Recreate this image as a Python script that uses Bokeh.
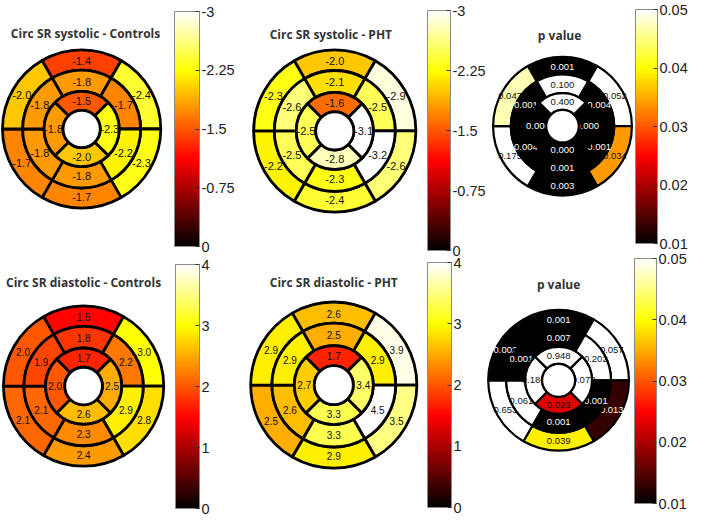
import math
from bokeh.plotting import figure
from bokeh.models import (ColumnDataSource, LinearColorMapper, ColorBar, FixedTicker,
                          Range1d, CustomJSTickFormatter, BasicTickFormatter)
from bokeh.core.properties import value
from bokeh.embed import file_html
from bokeh.resources import INLINE

# ---------------- data ----------------
# ring order: outer/middle = [top, upper-right, lower-right, bottom, lower-left, upper-left]
#             inner        = [top, right, bottom, left]
titles = ["Circ SR systolic - Controls", "Circ SR systolic - PHT", "p value",
          "Circ SR diastolic - Controls", "Circ SR diastolic - PHT", "p value"]

sys_controls_outer = [-1.4, -2.4, -2.3, -1.7, -1.7, -2.0]
sys_controls_middle = [-1.8, -1.7, -2.2, -1.8, -1.8, -1.8]
sys_controls_inner = [-1.5, -2.3, -2.0, -1.8]

sys_pht_outer = [-2.0, -2.9, -2.6, -2.4, -2.2, -2.3]
sys_pht_middle = [-2.1, -2.5, -3.2, -2.3, -2.5, -2.6]
sys_pht_inner = [-1.6, -3.1, -2.8, -2.5]

sys_p_outer = [0.001, 0.052, 0.034, 0.003, 0.175, 0.047]
sys_p_middle = [0.100, 0.004, 0.001, 0.001, 0.004, 0.001]
sys_p_inner = [0.400, 0.000, 0.000, 0.000]

dia_controls_outer = [1.5, 3.0, 2.8, 2.4, 2.1, 2.0]
dia_controls_middle = [1.8, 2.2, 2.9, 2.3, 2.1, 1.9]
dia_controls_inner = [1.7, 2.5, 2.6, 2.0]

dia_pht_outer = [2.6, 3.9, 3.5, 2.9, 2.5, 2.9]
dia_pht_middle = [2.5, 2.9, 4.5, 3.3, 2.6, 2.9]
dia_pht_inner = [1.7, 3.4, 3.3, 2.7]

dia_p_outer = [0.001, 0.057, 0.013, 0.039, 0.653, 0.002]
dia_p_middle = [0.007, 0.202, 0.001, 0.001, 0.061, 0.001]
dia_p_inner = [0.948, 0.073, 0.023, 0.186]

sys_ticks = [0, -0.75, -1.5, -2.25, -3]
dia_ticks = [0, 1, 2, 3, 4]
p_ticks = [0.01, 0.02, 0.03, 0.04, 0.05]

# ---------------- helpers ----------------
def hot(m=256):
    n = int(3 * m / 8)
    out = []
    for i in range(m):
        r = (i + 1) / n if i < n else 1.0
        g = 0.0 if i < n else ((i - n + 1) / n if i < 2 * n else 1.0)
        b = 0.0 if i < 2 * n else (i - 2 * n + 1) / (m - 2 * n)
        out.append("#%02x%02x%02x" % (round(r * 255), round(g * 255), round(b * 255)))
    return out

HOT = hot()

W, H = 708, 532          # reference canvas
FW, FH = 692, 516        # figure size
REF_TOP, REF_BOT = -4, 534
sx = FW / W
sy = FH / (REF_BOT - REF_TOP)

p = figure(width=FW, height=FH, x_range=Range1d(0, W),
           y_range=Range1d(H - REF_BOT, H - REF_TOP),
           output_backend="svg", toolbar_location=None, min_border=0,
           x_axis_type=None, y_axis_type=None)
p.grid.visible = False
p.outline_line_color = None
p.background_fill_color = "white"

OUTER_ANG = [(60, 120), (0, 60), (300, 360), (240, 300), (180, 240), (120, 180)]
INNER_ANG = [(45, 135), (-45, 45), (225, 315), (135, 225)]
RF = [0.235, 0.475, 0.745, 1.0]

# layout: cx, cy, R, title x, title y, colorbar left, top, right, bottom (reference px)
panels = [
    dict(vals=(sys_controls_outer, sys_controls_middle, sys_controls_inner), ticks=sys_ticks,
         kind="sys", geo=(83, 130, 81, 87, 30, 178, 8, 204, 253)),
    dict(vals=(sys_pht_outer, sys_pht_middle, sys_pht_inner), ticks=sys_ticks,
         kind="sys", geo=(342, 132, 83, 338, 31, 437, 7, 461, 257)),
    dict(vals=(sys_p_outer, sys_p_middle, sys_p_inner), ticks=p_ticks,
         kind="p", geo=(575, 127, 71, 572, 32, 650, 5, 672, 249)),
    dict(vals=(dia_controls_outer, dia_controls_middle, dia_controls_inner), ticks=dia_ticks,
         kind="dia", geo=(85, 398, 82, 85, 290, 179, 272, 204, 526)),
    dict(vals=(dia_pht_outer, dia_pht_middle, dia_pht_inner), ticks=dia_ticks,
         kind="dia", geo=(341, 397, 85, 341, 290, 437, 270, 462, 525)),
    dict(vals=(dia_p_outer, dia_p_middle, dia_p_inner), ticks=p_ticks,
         kind="p", geo=(571, 392, 72, 571, 292, 649, 265, 672, 520)),
]

for k, pan in enumerate(panels):
    cx, cyr, R, tx, tyr, cbl, cbt, cbr, cbb = pan["geo"]
    cy = H - cyr
    kind = pan["kind"]
    if kind == "sys":
        low, high = 0.0, 3.0
        sign = -1.0
        fmt = "%.1f"
        fsize = "11px"
        lw = 2.8
    elif kind == "dia":
        low, high = min(pan["ticks"]), max(pan["ticks"])
        sign = 1.0
        fmt = "%.1f"
        fsize = "10px"
        lw = 2.8
    else:
        low, high = min(pan["ticks"]), max(pan["ticks"])
        sign = 1.0
        fmt = "%.3f"
        fsize = "9.5px"
        lw = 2.2
    mapper = LinearColorMapper(palette=HOT, low=low, high=high)

    rings = [(pan["vals"][0], OUTER_ANG, RF[2], RF[3]),
             (pan["vals"][1], OUTER_ANG, RF[1], RF[2]),
             (pan["vals"][2], INNER_ANG, RF[0], RF[1])]
    for vals, angs, f0, f1 in rings:
        mags = [sign * v for v in vals]
        r0, r1 = f0 * R, f1 * R
        rm = (r0 + r1) / 2
        lx, ly, tc = [], [], []
        for (a0, a1), m in zip(angs, mags):
            am = math.radians((a0 + a1) / 2)
            lx.append(cx + rm * math.cos(am))
            ly.append(cy + rm * math.sin(am))
            t = (m - low) / (high - low)
            tc.append("white" if t < 0.25 else "#111111")
        src = ColumnDataSource(dict(
            x=[cx] * len(vals), y=[cy] * len(vals),
            a0=[math.radians(a[0]) for a in angs], a1=[math.radians(a[1]) for a in angs],
            m=mags, lx=lx, ly=ly, tc=tc, lab=[fmt % v for v in vals]))
        p.annular_wedge(x="x", y="y", inner_radius=r0, outer_radius=r1,
                        start_angle="a0", end_angle="a1",
                        fill_color={"field": "m", "transform": mapper},
                        line_color="black", line_width=lw, source=src)
        p.text(x="lx", y="ly", text="lab", text_color="tc", source=src,
               text_align="center", text_baseline="middle",
               text_font=value("Liberation Sans"), text_font_size=fsize)
    # centre hole
    p.circle(x=[cx], y=[cy], radius=RF[0] * R, fill_color="white",
             line_color="black", line_width=lw)
    # title
    p.text(x=[tx], y=[H - tyr], text=[titles[k]], text_align="center",
           text_baseline="middle", text_font=value("Open Sans"),
           text_font_size="12px", text_font_style="bold", text_color="#333333")

    # colour bar
    if kind == "sys":
        cb_ticker = FixedTicker(ticks=[-t for t in pan["ticks"]])
        cb_fmt = CustomJSTickFormatter(code="return tick == 0 ? '0' : '-' + tick;")
    else:
        cb_ticker = FixedTicker(ticks=list(pan["ticks"]))
        cb_fmt = BasicTickFormatter()
    cb = ColorBar(color_mapper=mapper, orientation="vertical",
                  location=(round(cbl * sx), round((REF_BOT - cbb) * sy)),
                  width=round((cbr - cbl) * sx), height=round((cbb - cbt) * sy),
                  padding=0, margin=0, ticker=cb_ticker, formatter=cb_fmt,
                  border_line_color=None, background_fill_alpha=0,
                  bar_line_color="#8a8a8a", bar_line_width=1,
                  major_tick_line_color="#333333", major_tick_in=4, major_tick_out=0,
                  minor_tick_line_color=None, label_standoff=2,
                  major_label_text_font="Liberation Sans",
                  major_label_text_font_size="14.5px", major_label_text_color="#222222")
    p.add_layout(cb, "center")

open("out.html", "w").write(file_html(p, INLINE))
